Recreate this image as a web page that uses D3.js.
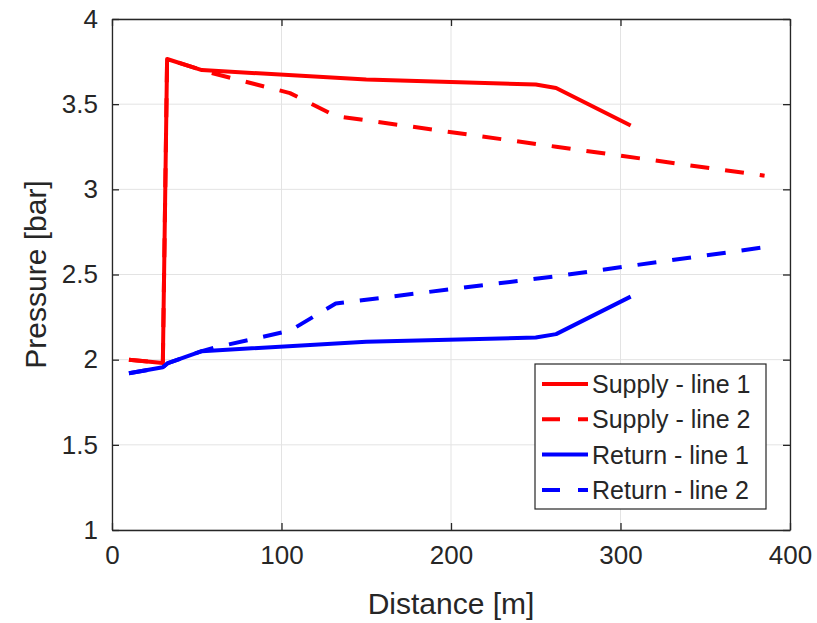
<!DOCTYPE html>
<html>
<head>
<meta charset="utf-8">
<script src="https://cdn.jsdelivr.net/npm/d3@7"></script>
<style>
  body { margin: 0; background: #fff; }
  svg { font-family: "Liberation Sans", Arial, sans-serif; }
</style>
</head>
<body>
<svg id="chart" width="817" height="623"></svg>
<script>
// Valores [distancia m, presion bar]
const supplyLine1 = [[10, 2.0], [30, 1.98], [32.5, 3.765], [53, 3.70], [150, 3.645], [250, 3.615], [262, 3.595], [306, 3.375]];
const supplyLine2 = [[10, 2.0], [30, 1.98], [32.5, 3.765], [53, 3.70], [60, 3.68], [105, 3.565], [132, 3.43], [262, 3.25], [385, 3.08]];
const returnLine1 = [[10, 1.92], [30, 1.955], [33, 1.98], [53, 2.05], [150, 2.105], [250, 2.13], [262, 2.15], [306, 2.37]];
const returnLine2 = [[10, 1.92], [30, 1.955], [33, 1.98], [53, 2.05], [60, 2.07], [105, 2.17], [132, 2.33], [262, 2.49], [385, 2.66]];

const xTicks = [0, 100, 200, 300, 400];
const yTicks = [1, 1.5, 2, 2.5, 3, 3.5, 4];
const seriesNames = ["Supply - line 1", "Supply - line 2", "Return - line 1", "Return - line 2"];

const series = [
    {name: seriesNames[0], data: supplyLine1, color: "#ff0000", dash: null},
    {name: seriesNames[1], data: supplyLine2, color: "#ff0000", dash: "19,16"},
    {name: seriesNames[2], data: returnLine1, color: "#0000ff", dash: null},
    {name: seriesNames[3], data: returnLine2, color: "#0000ff", dash: "19,16"}
];

const svg = d3.select("#chart");
const plot = {left: 112, right: 790, top: 19, bottom: 530};
const axisColor = "#262626";

const x = d3.scaleLinear().domain([0, 400]).range([plot.left, plot.right]);
const y = d3.scaleLinear().domain([1, 4]).range([plot.bottom, plot.top]);

// Rejilla
svg.append("g").selectAll("line").data(xTicks).enter().append("line")
    .attr("x1", d => x(d)).attr("x2", d => x(d))
    .attr("y1", plot.top).attr("y2", plot.bottom)
    .attr("stroke", "#e3e3e3").attr("stroke-width", 1);
svg.append("g").selectAll("line").data(yTicks).enter().append("line")
    .attr("x1", plot.left).attr("x2", plot.right)
    .attr("y1", d => y(d)).attr("y2", d => y(d))
    .attr("stroke", "#e3e3e3").attr("stroke-width", 1);

// Lineas
const line = d3.line().x(d => x(d[0])).y(d => y(d[1]));
svg.append("g").selectAll("path").data(series).enter().append("path")
    .attr("d", d => line(d.data))
    .attr("fill", "none")
    .attr("stroke", d => d.color)
    .attr("stroke-width", 4)
    .attr("stroke-linejoin", "round")
    .attr("stroke-dasharray", d => d.dash);

// Ejes (caja con ticks hacia dentro)
const xAxis = d3.axisBottom(x).tickValues(xTicks).tickSizeInner(-7).tickSizeOuter(0).tickPadding(16);
const yAxis = d3.axisLeft(y).tickValues(yTicks).tickSizeInner(-7).tickSizeOuter(0).tickPadding(14).tickFormat(d3.format("~g"));

const gx = svg.append("g").attr("transform", `translate(0,${plot.bottom})`).call(xAxis);
const gy = svg.append("g").attr("transform", `translate(${plot.left},0)`).call(yAxis);
const gxTop = svg.append("g").attr("transform", `translate(0,${plot.top})`)
    .call(d3.axisTop(x).tickValues(xTicks).tickSizeInner(-7).tickSizeOuter(0).tickFormat(""));
const gyRight = svg.append("g").attr("transform", `translate(${plot.right},0)`)
    .call(d3.axisRight(y).tickValues(yTicks).tickSizeInner(-7).tickSizeOuter(0).tickFormat(""));

[gx, gy, gxTop, gyRight].forEach(g => {
    g.select(".domain").attr("stroke", axisColor).attr("stroke-width", 1.3);
    g.selectAll(".tick line").attr("stroke", axisColor).attr("stroke-width", 1.3);
    g.selectAll(".tick text").attr("fill", axisColor).attr("font-size", 26)
        .attr("font-family", "Liberation Sans, Arial, sans-serif");
});

// Etiquetas de ejes
svg.append("text")
    .attr("x", (plot.left + plot.right) / 2).attr("y", 614)
    .attr("text-anchor", "middle")
    .attr("font-size", 30).attr("fill", axisColor)
    .text("Distance [m]");
svg.append("text")
    .attr("transform", `translate(46,${(plot.top + plot.bottom) / 2}) rotate(-90)`)
    .attr("text-anchor", "middle")
    .attr("font-size", 30).attr("fill", axisColor)
    .text("Pressure [bar]");

// Leyenda
const legend = svg.append("g").attr("transform", "translate(535,364)");
legend.append("rect")
    .attr("width", 231).attr("height", 145)
    .attr("fill", "#fff").attr("stroke", axisColor).attr("stroke-width", 1.2);
const rows = legend.selectAll("g.row").data(series).enter().append("g")
    .attr("class", "row")
    .attr("transform", (d, i) => `translate(0,${20 + i * 35.3})`);
rows.append("line")
    .attr("x1", 7).attr("x2", 53).attr("y1", 0).attr("y2", 0)
    .attr("stroke", d => d.color).attr("stroke-width", 4)
    .attr("stroke-dasharray", d => d.dash ? "18,18" : null);
rows.append("text")
    .attr("x", 57).attr("y", 9)
    .attr("font-size", 25).attr("fill", axisColor)
    .text(d => d.name);
</script>
</body>
</html>
